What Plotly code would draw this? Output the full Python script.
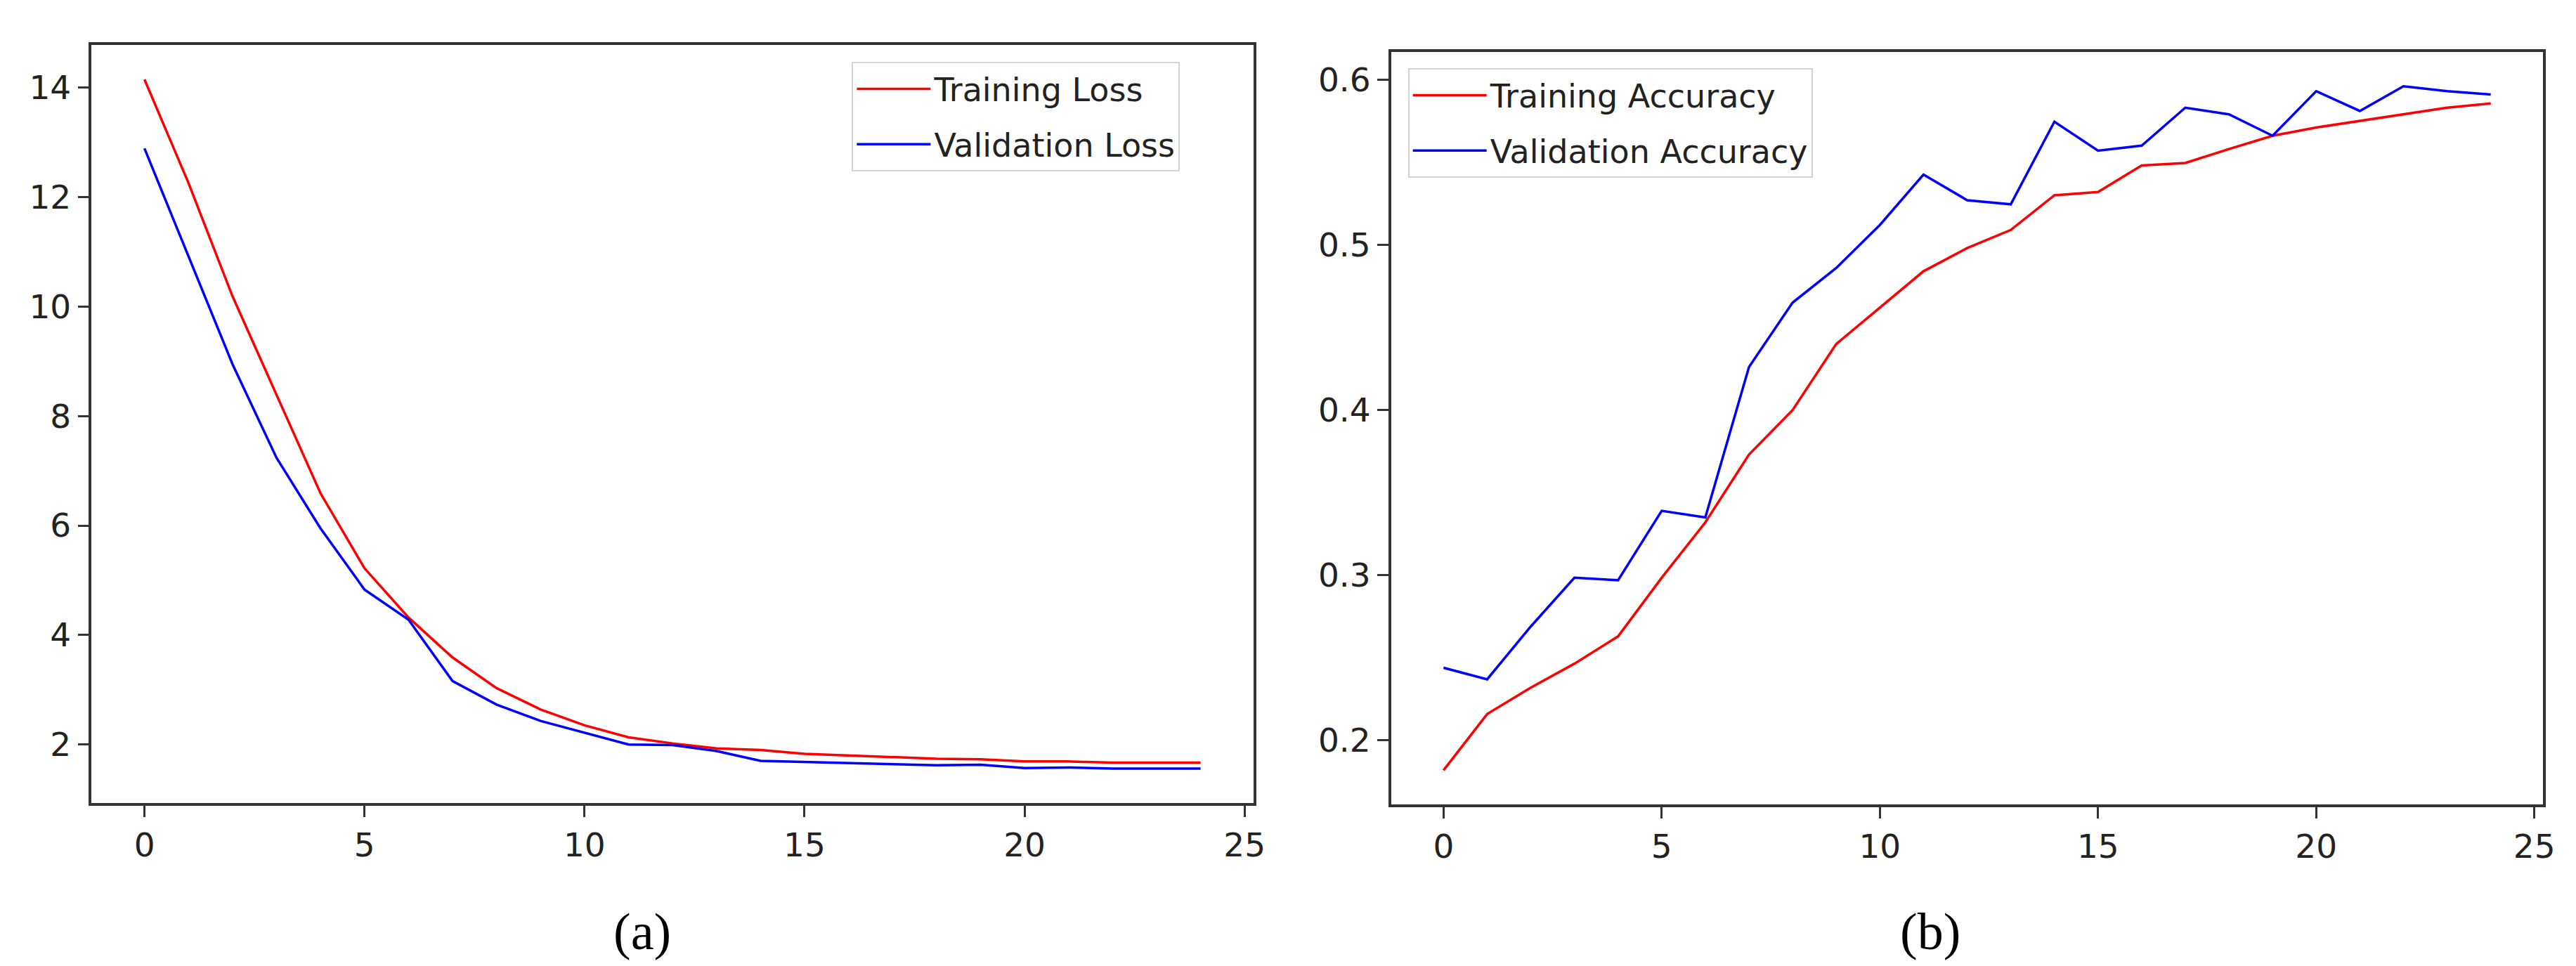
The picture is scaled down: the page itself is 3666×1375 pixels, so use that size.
import plotly.graph_objects as go

epochs = list(range(25))

train_loss = [14.15, 12.26, 10.19, 8.40, 6.59, 5.22, 4.32, 3.59, 3.03, 2.64, 2.35, 2.13, 2.02,
              1.93, 1.90, 1.83, 1.80, 1.77, 1.74, 1.73, 1.69, 1.69, 1.67, 1.67, 1.67]
val_loss = [12.89, 10.93, 8.95, 7.24, 5.95, 4.83, 4.28, 3.16, 2.73, 2.43, 2.22, 2.00, 1.99,
            1.88, 1.70, 1.68, 1.66, 1.63, 1.62, 1.63, 1.57, 1.58, 1.56, 1.56, 1.56]

train_acc = [0.182, 0.216, 0.232, 0.2465, 0.263, 0.2985, 0.332, 0.373, 0.400, 0.440, 0.462,
             0.484, 0.498, 0.509, 0.530, 0.532, 0.548, 0.5495, 0.558, 0.566, 0.571, 0.575,
             0.579, 0.583, 0.5856]
val_acc = [0.244, 0.237, 0.269, 0.2985, 0.297, 0.339, 0.335, 0.426, 0.465, 0.486, 0.512,
           0.5425, 0.527, 0.5245, 0.5745, 0.557, 0.560, 0.583, 0.579, 0.566, 0.593, 0.581,
           0.596, 0.593, 0.591]

loss_ticks = [2, 4, 6, 8, 10, 12, 14]
acc_ticks = [0.2, 0.3, 0.4, 0.5, 0.6]
x_ticks = [0, 5, 10, 15, 20, 25]
captions = ["(a)", "(b)"]

W, H = 3666, 1375
RED, BLUE = "#ff0000", "#0000ff"
AX = "#333333"
TICKFONT = dict(family="DejaVu Sans", size=47, color="#222222")
LEGFONT = dict(family="DejaVu Sans", size=46, color="#222222")

fig = go.Figure()
fig.add_trace(go.Scatter(x=epochs, y=train_loss, mode="lines", name="Training Loss",
                         line=dict(color=RED, width=3.5), xaxis="x", yaxis="y",
                         legend="legend", legendgroup="a1"))
fig.add_trace(go.Scatter(x=epochs, y=val_loss, mode="lines", name="Validation Loss",
                         line=dict(color=BLUE, width=3.5), xaxis="x", yaxis="y",
                         legend="legend", legendgroup="a2"))
fig.add_trace(go.Scatter(x=epochs, y=train_acc, mode="lines", name="Training Accuracy",
                         line=dict(color=RED, width=3.5), xaxis="x2", yaxis="y2",
                         legend="legend2", legendgroup="b1"))
fig.add_trace(go.Scatter(x=epochs, y=val_acc, mode="lines", name="Validation Accuracy",
                         line=dict(color=BLUE, width=3.5), xaxis="x2", yaxis="y2",
                         legend="legend2", legendgroup="b2"))

def axis_style(**kw):
    d = dict(showline=True, mirror=True, linecolor=AX, linewidth=3.5, showgrid=False,
             zeroline=False, ticks="outside", ticklen=16, tickwidth=3, tickcolor=AX,
             tickfont=TICKFONT)
    d.update(kw)
    return d

def pad(vals, frac=0.05):
    lo, hi = min(vals), max(vals)
    m = (hi - lo) * frac
    return [lo - m, hi + m]

def legend_style(x, y):
    return dict(x=x, y=y, xanchor="left", yanchor="top",
                bordercolor="#d4d4d4", borderwidth=2, bgcolor="rgba(255,255,255,0.8)",
                font=LEGFONT, itemwidth=105, tracegroupgap=16)

fig.update_layout(
    width=W, height=H,
    margin=dict(l=0, r=0, t=0, b=0),
    paper_bgcolor="white", plot_bgcolor="white",
    xaxis=axis_style(domain=[123 / W, 1784 / W], range=pad(epochs), tickvals=x_ticks, anchor="y"),
    yaxis=axis_style(domain=[1 - 1135 / H, 1 - 56 / H], range=pad(train_loss + val_loss),
                     tickvals=loss_ticks, anchor="x"),
    xaxis2=axis_style(domain=[1981 / W, 3628 / W], range=pad(epochs), tickvals=x_ticks, anchor="y2"),
    yaxis2=axis_style(domain=[1 - 1137 / H, 1 - 66 / H], range=pad(train_acc + val_acc),
                      tickvals=acc_ticks, anchor="x2"),
    legend=legend_style(1210 / W, 1 - 80 / H),
    legend2=legend_style(2005 / W, 1 - 89 / H),
    showlegend=True,
)

for cx, txt in zip([910 / W, 2752 / W], captions):
    fig.add_annotation(x=cx, y=1 - 1318 / H, xref="paper", yref="paper", text=txt,
                       showarrow=False, xanchor="center", yanchor="middle",
                       font=dict(family="Liberation Serif", size=74, color="black"))

fig.write_html("out.html")
